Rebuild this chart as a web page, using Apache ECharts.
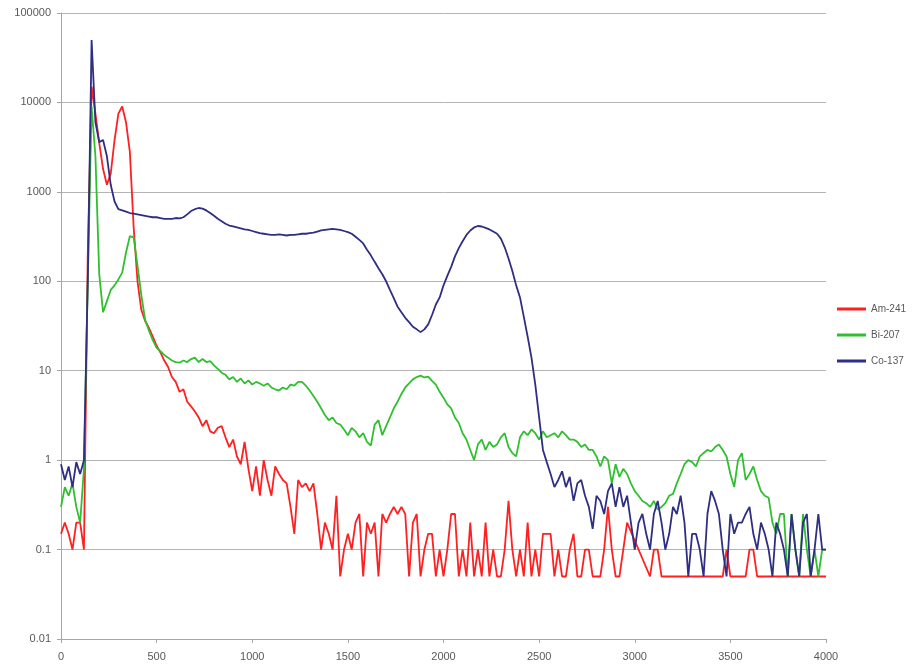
<!DOCTYPE html>
<html>
<head>
<meta charset="utf-8">
<script src="https://cdn.jsdelivr.net/npm/echarts@6/dist/echarts.min.js"></script>
<style>
html,body{margin:0;padding:0;background:#fff;}
#chart{width:913px;height:667px;}
</style>
</head>
<body>
<div id="chart"></div>
<script>
// Channel positions (step 20 from 0 to 4000)
const CHANNEL_STEP = 20;
const seriesNames = ['Am-241', 'Bi-207', 'Co-137'];
const yTickLabels = ['0.01', '0.1', '1', '10', '100', '1000', '10000', '100000'];
const xTickLabels = ['0', '500', '1000', '1500', '2000', '2500', '3000', '3500', '4000'];

const am241 = [
 0.15,0.2,0.15,0.1,0.2,0.2,0.1,200,15000,7500,
 3500,1800,1200,1600,3800,7500,9000,6000,2800,400,
 100,48,36,30,24,19,16,13,11,8.5,
 7.5,5.8,6.2,4.5,4.0,3.5,3.0,2.4,2.8,2.1,
 2.0,2.3,2.4,1.8,1.4,1.7,1.1,0.9,1.6,0.8,
 0.45,0.85,0.4,1.0,0.6,0.4,0.85,0.7,0.6,0.55,
 0.3,0.15,0.6,0.5,0.55,0.45,0.55,0.25,0.1,0.2,
 0.15,0.1,0.4,0.05,0.1,0.15,0.1,0.2,0.25,0.05,
 0.2,0.15,0.2,0.05,0.25,0.2,0.25,0.3,0.25,0.3,
 0.25,0.05,0.2,0.25,0.05,0.1,0.15,0.15,0.05,0.1,
 0.05,0.1,0.25,0.25,0.05,0.1,0.05,0.2,0.05,0.1,
 0.05,0.2,0.05,0.1,0.05,0.05,0.1,0.35,0.1,0.05,
 0.1,0.05,0.2,0.05,0.1,0.05,0.15,0.15,0.15,0.05,
 0.1,0.05,0.05,0.1,0.15,0.05,0.05,0.1,0.1,0.05,
 0.05,0.05,0.1,0.3,0.1,0.05,0.05,0.1,0.2,null,
 null,null,null,null,0.05,0.1,0.1,0.05,0.05,0.05,
 0.05,0.05,0.05,0.05,0.05,0.05,0.05,0.05,0.05,0.05,
 0.05,0.05,0.05,0.05,0.1,0.05,0.05,0.05,0.05,0.05,
 0.1,0.1,0.05,0.05,0.05,0.05,0.05,0.05,0.05,0.05,
 0.05,0.05,0.05,0.05,0.05,0.05,0.05,0.05,0.05,0.05,
 0.05
];

const bi207 = [
 0.3,0.5,0.4,0.55,0.3,0.2,0.8,100,9000,2500,
 120,45,60,80,90,105,125,210,320,310,
 150,70,37,28,22,18,16.5,15,14,13,
 12.5,12.3,13,12.5,13.5,14,12.5,13.5,12.5,12.8,
 11.5,10.5,9.5,9,8,8.5,7.5,8.2,7.2,7.8,
 7.0,7.5,7.2,6.8,7.2,6.5,6.2,6,6.5,6.2,
 7,6.8,7.5,7.5,6.8,6.0,5.2,4.5,3.8,3.2,
 2.8,3.0,2.6,2.5,2.2,1.9,2.3,2.1,1.8,2.0,
 1.6,1.45,2.5,2.8,1.9,2.4,3.0,3.8,4.5,5.5,
 6.5,7.2,8.0,8.5,8.8,8.4,8.6,7.7,7.0,5.8,
 5.0,4.2,3.8,3.0,2.6,2.0,1.7,1.3,1.0,1.5,
 1.7,1.3,1.6,1.4,1.5,1.8,2.0,1.4,1.2,1.1,
 1.8,2.1,1.9,2.2,2.0,1.7,2.1,1.8,1.9,2.0,
 1.8,2.1,1.9,1.7,1.7,1.6,1.4,1.5,1.3,1.3,
 1.1,0.85,1.1,1.0,0.55,0.9,0.65,0.8,0.7,0.55,
 0.45,0.4,0.35,0.33,0.3,0.35,0.28,0.3,0.33,0.4,
 0.42,0.55,0.7,0.9,1.0,0.95,0.85,1.1,1.2,1.3,
 1.25,1.4,1.5,1.3,1.1,0.7,0.5,1.0,1.2,0.6,
 0.7,0.85,0.6,0.45,0.4,0.38,0.2,0.15,0.25,0.25,
 0.05,0.25,0.1,0.05,0.25,0.1,0.05,0.1,0.05,0.1,
 0.1
];

const co137 = [
 0.9,0.6,0.85,0.5,0.95,0.7,1.0,100,50000,6000,
 3600,3800,2500,1200,780,640,620,600,580,570,
 560,550,540,530,520,520,510,500,500,500,
 510,505,520,560,610,640,660,650,620,580,
 540,500,470,440,420,410,400,390,380,375,
 365,355,345,340,335,330,330,335,330,325,
 330,330,335,340,340,345,350,360,370,375,
 380,385,380,375,365,355,340,315,290,265,
 225,195,165,140,120,100,80,65,52,45,
 39,35,31,29,27,29,33,42,55,66,
 90,115,145,190,235,280,330,370,400,415,
 410,395,380,360,340,300,240,180,130,90,
 66,40,24,14,7,3,1.3,0.95,0.7,0.5,
 0.6,0.75,0.5,0.65,0.35,0.55,0.6,0.4,0.3,0.17,
 0.4,0.35,0.25,0.45,0.55,0.3,0.5,0.3,0.4,0.2,
 0.1,0.2,0.25,0.15,0.1,0.25,0.35,0.2,0.1,0.15,
 0.3,0.25,0.4,0.2,0.05,0.15,0.15,0.1,0.05,0.25,
 0.45,0.35,0.25,0.1,0.05,0.25,0.15,0.2,0.2,0.25,
 0.3,0.15,0.1,0.2,0.15,0.1,0.05,0.2,0.15,0.1,
 0.05,0.25,0.1,0.05,0.2,0.25,0.05,0.1,0.25,0.1,
 0.1
];

const colors = ['#ff2020', '#2fbf2f', '#2e2e82'];

function toPairs(values) {
  return values.map((v, i) => [i * CHANNEL_STEP, v]);
}

const chart = echarts.init(document.getElementById('chart'), null, {renderer: 'canvas'});
const fontFamily = 'Liberation Sans, Arial, sans-serif';
const axisFont = {color: '#595959', fontSize: 11, fontFamily: fontFamily};

chart.setOption({
  animation: false,
  backgroundColor: '#ffffff',
  color: colors,
  grid: {left: 61, right: 87, top: 13, bottom: 28, containLabel: false},
  legend: {
    orient: 'vertical',
    left: 832,
    top: 299,
    padding: 5,
    itemWidth: 29,
    itemHeight: 3,
    itemGap: 16,
    icon: 'rect',
    data: seriesNames,
    textStyle: {color: '#595959', fontSize: 10, fontFamily: fontFamily}
  },
  xAxis: {
    type: 'value',
    min: 0,
    max: 4000,
    interval: 500,
    axisLine: {show: true, lineStyle: {color: '#a6a6a6', width: 1}},
    axisTick: {show: true, length: 4, lineStyle: {color: '#a6a6a6'}},
    splitLine: {show: false},
    axisLabel: Object.assign({margin: 12, formatter: (v) => xTickLabels[Math.round(v / 500)]}, axisFont)
  },
  yAxis: {
    type: 'log',
    logBase: 10,
    min: 0.01,
    max: 100000,
    axisLine: {show: true, lineStyle: {color: '#a6a6a6', width: 1}},
    axisTick: {show: true, length: 4, lineStyle: {color: '#a6a6a6'}},
    splitLine: {show: true, lineStyle: {color: '#b4b4b4', width: 1}},
    minorTick: {show: false},
    axisLabel: Object.assign({margin: 10, formatter: (v) => yTickLabels[Math.round(Math.log10(v)) + 2]}, axisFont)
  },
  series: [
    {name: seriesNames[0], type: 'line', data: toPairs(am241), showSymbol: false, connectNulls: true,
     lineStyle: {width: 1.8, color: colors[0]}, itemStyle: {color: colors[0]}},
    {name: seriesNames[1], type: 'line', data: toPairs(bi207), showSymbol: false, connectNulls: true,
     lineStyle: {width: 1.8, color: colors[1]}, itemStyle: {color: colors[1]}},
    {name: seriesNames[2], type: 'line', data: toPairs(co137), showSymbol: false, connectNulls: true,
     lineStyle: {width: 1.8, color: colors[2]}, itemStyle: {color: colors[2]}}
  ]
});
</script>
</body>
</html>
